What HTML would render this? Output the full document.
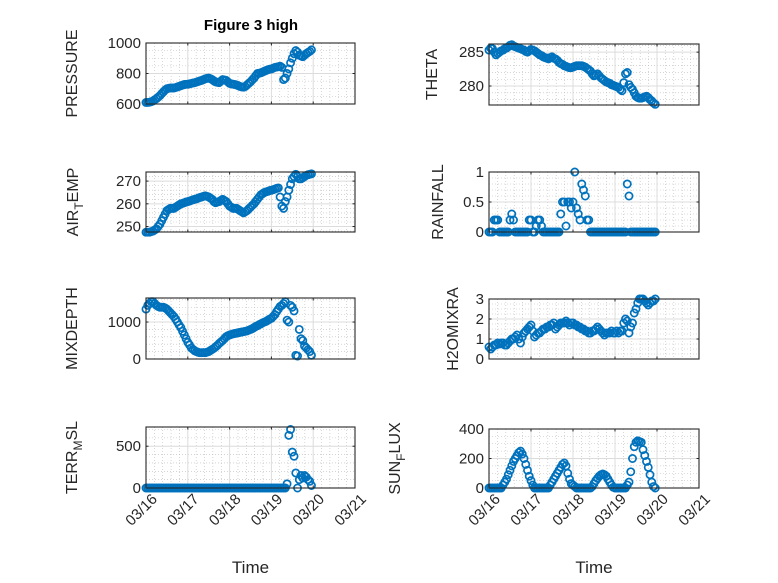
<!DOCTYPE html>
<html><head><meta charset="utf-8"><style>
html,body{margin:0;padding:0;background:#fff}
svg{display:block;font-family:"Liberation Sans",sans-serif}
</style></head><body>
<svg id="fig" width="778" height="583" viewBox="0 0 778 583" xmlns="http://www.w3.org/2000/svg">
<rect width="778" height="583" fill="#fff"/>
<text x="251" y="30" text-anchor="middle" font-size="15" font-weight="bold" fill="#000">Figure 3 high</text>
</svg>
<script>
const hours = [0,1,2,3,4,5,6,7,8,9,10,11,12,13,14,15,16,17,18,19,20,21,22,23,24,25,26,27,28,29,30,31,32,33,34,35,36,37,38,39,40,41,42,43,44,45,46,47,48,49,50,51,52,53,54,55,56,57,58,59,60,61,62,63,64,65,66,67,68,69,70,71,72,73,74,75,76,77,78,79,80,81,82,83,84,85,86,87,88,89,90,91,92,93,94,95];
const dayLabels = ["03/16","03/17","03/18","03/19","03/20","03/21"];
const pressure = [610,610,612,615,620,628,635,645,655,668,680,692,700,703,705,705,705,708,712,716,720,724,728,729,
730,732,735,738,740,744,748,752,755,760,765,768,770,766,760,752,745,742,740,750,760,758,755,745,
735,732,730,728,725,720,715,712,710,715,725,735,745,758,770,785,800,802,805,810,815,820,825,828,
830,835,840,842,845,848,840,760,770,800,830,870,900,930,950,940,920,915,910,920,930,938,945,955];
const theta = [285.3,285.6,285.5,285.0,284.6,284.8,285.0,285.2,285.3,285.5,285.6,285.8,286.0,286.1,285.9,285.8,285.7,285.6,285.5,285.4,285.3,285.1,285.0,285.2,
285.4,285.3,285.2,285.0,284.8,284.6,284.5,284.3,284.2,284.1,284.0,284.2,284.3,284.1,284.0,283.8,283.5,283.3,283.2,283.0,282.9,282.8,282.7,282.7,
282.8,282.9,283.0,283.0,283.0,283.0,282.9,282.8,282.6,282.4,282.2,281.8,281.5,281.6,281.8,281.5,281.2,281.0,280.8,280.6,280.5,280.4,280.2,280.1,
280.0,279.9,279.8,279.5,279.3,280.5,281.8,282.0,280.2,279.8,279.5,279.0,278.5,278.3,278.2,278.2,278.3,278.4,278.5,278.3,278.0,277.8,277.5,277.3];
const airTemp = [247.5,247.5,247.5,247.8,248,248.5,249,250,251,252.5,254,255.5,257,257.5,258,258,258,258.5,259,259.5,260,260.2,260.5,260.8,
261,261.2,261.5,261.8,262,262.2,262.5,262.8,263,263.3,263.5,263.3,263,262.5,262,261,260.5,260.8,261,261.5,262,261.5,261,260,
259,258.5,258,258,258,257.5,257,256.5,256,256.5,257,257.8,258.5,259.3,260,261,262,263,264,264.5,265,265.3,265.5,265.8,
266,266.2,266.5,266.8,267,263,259,258,261,263,266,268.5,271,272,273,272,271,271,271.5,272,272.5,272.8,273,273.2];
const rainfall = [0,0,0,0.2,0.2,0.2,0,0,0,0,0,0,0.2,0.3,0.2,0,0,0,0,0,0,0,0,0.2,
0.2,0,0,0.1,0.2,0.2,0.1,0,0,0,0,0,0,0,0,0,0,0.3,0.5,0.5,0.1,0.5,0.5,0.4,
0.5,1.0,0.4,0.3,0.2,0.8,0.7,0.6,0.2,0.2,0,0,0,0,0,0,0,0,0,0,0,0,0,0,
0,0,0,0,0,0,0,0.8,0.6,0,0,0,0,0,0,0,0,0,0,0,0,0,0,0];
const mixDepth = [1350,1450,1500,1550,1550,1500,1450,1420,1400,1400,1400,1380,1350,1300,1250,1200,1150,1080,1000,920,850,750,650,550,
450,380,300,260,220,200,180,170,170,175,170,185,200,230,260,290,330,370,420,460,500,550,600,630,
650,665,680,690,700,710,720,730,740,750,760,780,800,820,850,880,900,930,950,980,1000,1020,1050,1080,
1100,1150,1200,1280,1350,1420,1450,1500,1550,1050,1000,1450,1400,1300,100,80,800,550,500,350,300,250,200,100];
const h2oMix = [0.6,0.5,0.6,0.7,0.7,0.8,0.75,0.8,0.8,0.7,0.7,0.8,0.9,1.0,1.0,1.1,1.2,1.0,0.8,1.1,1.3,1.4,1.5,1.6,
1.7,1.4,1.1,1.2,1.3,1.3,1.4,1.5,1.5,1.6,1.6,1.7,1.7,1.8,1.5,1.6,1.7,1.8,1.8,1.8,1.9,1.8,1.7,1.8,
1.8,1.7,1.7,1.6,1.6,1.5,1.5,1.4,1.4,1.3,1.3,1.4,1.4,1.5,1.6,1.5,1.4,1.3,1.2,1.3,1.3,1.3,1.4,1.3,
1.3,1.4,1.3,1.4,1.4,1.8,2.0,1.9,1.3,1.6,1.8,2.3,2.5,2.8,3.0,3.0,3.0,2.9,2.8,2.7,2.8,2.9,2.9,3.0];
const terrMsl = [0,0,0,0,0,0,0,0,0,0,0,0,0,0,0,0,0,0,0,0,0,0,0,0,
0,0,0,0,0,0,0,0,0,0,0,0,0,0,0,0,0,0,0,0,0,0,0,0,
0,0,0,0,0,0,0,0,0,0,0,0,0,0,0,0,0,0,0,0,0,0,0,0,
0,0,0,0,0,0,0,0,0,50,630,700,430,380,180,0,100,150,120,150,130,100,80,30];
const sunFlux = [0,0,0,0,0,0,0,0,20,40,60,90,120,150,180,200,220,240,250,230,200,160,120,80,
50,20,0,0,0,0,0,0,0,0,0,20,40,60,80,100,120,140,160,170,150,100,60,30,
20,10,0,0,0,0,0,0,0,0,0,10,30,50,65,80,90,95,90,80,60,40,20,5,
0,0,0,0,0,0,0,20,40,110,200,280,310,320,315,310,260,220,180,140,90,40,10,0];

const NS="http://www.w3.org/2000/svg";
const svg=document.getElementById('fig');
function el(tag,attrs,parent){const e=document.createElementNS(NS,tag);for(const k in attrs)e.setAttribute(k,attrs[k]);(parent||svg).appendChild(e);return e;}

const panels=[
 {name:'pressure',data:pressure,x0:146,x1:355,y0:43,y1:104,ymin:600,ymax:1000,ticks:[600,800,1000],minor:50,label:['PRESSURE'],lx:77,bottom:false},
 {name:'theta',data:theta,x0:489,x1:699,y0:44,y1:105,ymin:277.2,ymax:286.2,ticks:[280,285],minor:1,label:['THETA'],lx:437,bottom:false},
 {name:'air-temp',data:airTemp,x0:146,x1:355,y0:172,y1:232,ymin:247.6,ymax:274,ticks:[250,260,270],minor:2,label:['AIR','T','EMP'],lx:78,bottom:false},
 {name:'rainfall',data:rainfall,x0:489,x1:699,y0:172,y1:232,ymin:0,ymax:1,ticks:[0,0.5,1],minor:0.1,label:['RAINFALL'],lx:443,bottom:false},
 {name:'mixdepth',data:mixDepth,x0:146,x1:355,y0:298,y1:359,ymin:0,ymax:1650,ticks:[0,1000],minor:200,label:['MIXDEPTH'],lx:77,bottom:false},
 {name:'h2omixra',data:h2oMix,x0:489,x1:699,y0:299,y1:359,ymin:0,ymax:3,ticks:[0,1,2,3],minor:0.25,label:['H2OMIXRA'],lx:458,bottom:false},
 {name:'terr-msl',data:terrMsl,x0:146,x1:355,y0:427,y1:488,ymin:0,ymax:730,ticks:[0,500],minor:100,label:['TERR','M','SL'],lx:77,bottom:true},
 {name:'sun-flux',data:sunFlux,x0:489,x1:699,y0:429,y1:488,ymin:0,ymax:400,ticks:[0,200,400],minor:50,label:['SUN','F','LUX'],lx:400,bottom:true}
];

panels.forEach(p=>{
 const g=el('g',{});
 
 
 const xs=d=>p.x0+(d/5)*(p.x1-p.x0);
 const ys=v=>p.y1-(v-p.ymin)/(p.ymax-p.ymin)*(p.y1-p.y0);
 el('rect',{x:p.x0,y:p.y0,width:p.x1-p.x0,height:p.y1-p.y0,fill:'#fff'},g);
 for(let d=0.2;d<5;d+=0.2){ if(Math.abs(d-Math.round(d))<1e-6)continue;
  el('line',{x1:xs(d),x2:xs(d),y1:p.y0,y2:p.y1,stroke:'#bbb','stroke-width':0.6,'stroke-dasharray':'1,2'},g);}
 const start=Math.ceil(p.ymin/p.minor)*p.minor;
 for(let v=start;v<p.ymax-1e-9;v+=p.minor){
  if(p.ticks.some(t=>Math.abs(t-v)<1e-6))continue;
  el('line',{x1:p.x0,x2:p.x1,y1:ys(v),y2:ys(v),stroke:'#bbb','stroke-width':0.6,'stroke-dasharray':'1,2'},g);}
 for(let d=1;d<5;d++) el('line',{x1:xs(d),x2:xs(d),y1:p.y0,y2:p.y1,stroke:'#dcdcdc','stroke-width':1},g);
 p.ticks.forEach(t=>{ if(ys(t)>p.y0+1&&ys(t)<p.y1-1) el('line',{x1:p.x0,x2:p.x1,y1:ys(t),y2:ys(t),stroke:'#dcdcdc','stroke-width':1},g);});
 for(let d=0;d<=5;d++){el('line',{x1:xs(d),x2:xs(d),y1:p.y1,y2:p.y1-2.5,stroke:'#262626'},g);el('line',{x1:xs(d),x2:xs(d),y1:p.y0,y2:p.y0+2.5,stroke:'#262626'},g);}
 p.ticks.forEach(t=>{
  el('line',{x1:p.x0,x2:p.x0+2.5,y1:ys(t),y2:ys(t),stroke:'#262626'},g);
  el('line',{x1:p.x1,x2:p.x1-2.5,y1:ys(t),y2:ys(t),stroke:'#262626'},g);
  const tl=el('text',{x:p.x0-5,y:ys(t)+5,'text-anchor':'end','font-size':15,fill:'#262626'},g);
  tl.textContent=String(t);
  
  
 });
 p.data.forEach((v,i)=>{
  const c=el('circle',{cx:xs(hours[i]/24),cy:ys(v),r:3.6,fill:'none',stroke:'#0072BD','stroke-width':1.7},g);
  
  
 });
 el('rect',{x:p.x0,y:p.y0,width:p.x1-p.x0,height:p.y1-p.y0,fill:'none',stroke:'#262626','stroke-width':1.1},g);
 const cy=(p.y0+p.y1)/2;
 const lab=el('text',{transform:`translate(${p.lx},${cy}) rotate(-90)`,'text-anchor':'middle','font-size':16,fill:'#262626'},g);
 
 
 if(p.label.length===1){lab.textContent=p.label[0];}
 else{
  const a=el('tspan',{},lab);a.textContent=p.label[0];
  const b=el('tspan',{dy:5,'font-size':12},lab);b.textContent=p.label[1];
  const c=el('tspan',{dy:-5},lab);c.textContent=p.label[2];
 }
 if(p.bottom){
  dayLabels.forEach((s,d)=>{
   const t=el('text',{transform:`translate(${xs(d)+12},${p.y1+12}) rotate(-45)`,'text-anchor':'end','font-size':15,fill:'#262626'},g);
   t.textContent=s;
   
   
  });
  const xt=el('text',{x:(p.x0+p.x1)/2,y:573,'text-anchor':'middle','font-size':17,fill:'#262626'},g);
  xt.textContent='Time';
  
  
 }
});
</script>
</body></html>
